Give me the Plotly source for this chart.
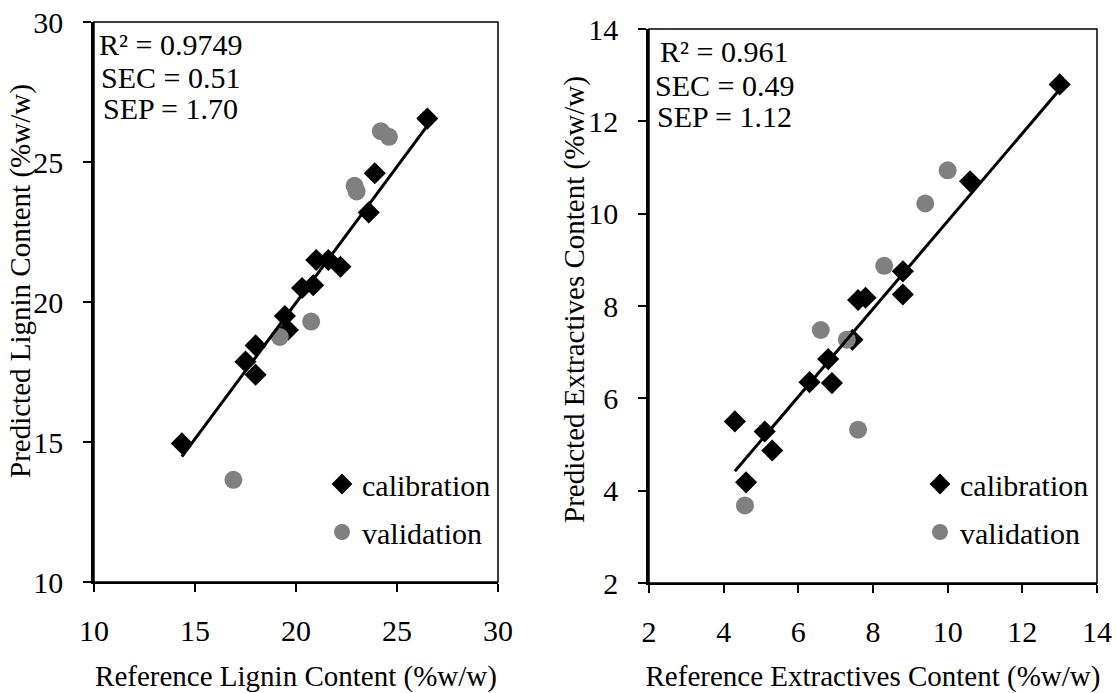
import plotly.graph_objects as go

W, H = 1116, 693
FONT = "Liberation Serif"

# ---------------- data ----------------
lig_cal_x = [26.5, 23.9, 23.6, 21.0, 21.6, 22.2, 20.3, 20.85, 19.45, 19.6, 18.0, 17.5, 18.0, 14.35]
lig_cal_y = [26.55, 24.6, 23.2, 21.5, 21.5, 21.26, 20.5, 20.6, 19.5, 19.0, 18.45, 17.87, 17.4, 14.95]
lig_val_x = [24.2, 24.6, 22.9, 23.0, 20.75, 19.2, 16.9]
lig_val_y = [26.1, 25.9, 24.15, 23.95, 19.3, 18.75, 13.65]
lig_trend_x = [14.35, 26.47]
lig_trend_y = [14.48, 26.26]

ext_cal_x = [13.0, 10.6, 8.8, 8.8, 7.6, 7.8, 7.45, 6.8, 6.3, 6.9, 4.3, 5.1, 5.3, 4.6]
ext_cal_y = [12.8, 10.7, 8.75, 8.25, 8.13, 8.18, 7.27, 6.85, 6.35, 6.33, 5.5, 5.28, 4.87, 4.18]
ext_val_x = [10.0, 9.4, 8.3, 6.6, 7.3, 7.6, 4.57]
ext_val_y = [10.94, 10.22, 8.87, 7.48, 7.27, 5.32, 3.68]
ext_trend_x = [4.3, 13.0]
ext_trend_y = [4.42, 12.69]

lig_stats = ["R² = 0.9749", "SEC = 0.51", "SEP = 1.70"]
ext_stats = ["R² = 0.961", "SEC = 0.49", "SEP = 1.12"]

lig_xticks = [10, 15, 20, 25, 30]
lig_yticks = [10, 15, 20, 25, 30]
ext_ticks = [2, 4, 6, 8, 10, 12, 14]

series_names = ["calibration", "validation"]
x_titles = ["Reference Lignin Content (%w/w)", "Reference Extractives Content (%w/w)"]
y_titles = ["Predicted Lignin Content (%w/w)", "Predicted Extractives Content (%w/w)"]

# ---------------- helpers (layout positions in pixels) ----------------
def px(x):
    return x / W

def py(y):
    return 1 - y / H

CAL_COLOR = "#000000"
VAL_COLOR = "#808080"

fig = go.Figure()

# Left panel
fig.add_trace(go.Scatter(x=lig_cal_x, y=lig_cal_y, mode="markers", name=series_names[0],
                         marker=dict(symbol="diamond", size=17, color=CAL_COLOR),
                         xaxis="x", yaxis="y", legend="legend", legendgroup="a"))
fig.add_trace(go.Scatter(x=lig_val_x, y=lig_val_y, mode="markers", name=series_names[1],
                         marker=dict(symbol="circle", size=18, color=VAL_COLOR),
                         xaxis="x", yaxis="y", legend="legend", legendgroup="b"))
fig.add_trace(go.Scatter(x=lig_trend_x, y=lig_trend_y, mode="lines", showlegend=False,
                         line=dict(color="black", width=3), xaxis="x", yaxis="y"))

# Right panel
fig.add_trace(go.Scatter(x=ext_cal_x, y=ext_cal_y, mode="markers", name=series_names[0],
                         marker=dict(symbol="diamond", size=17, color=CAL_COLOR),
                         xaxis="x2", yaxis="y2", legend="legend2", legendgroup="c"))
fig.add_trace(go.Scatter(x=ext_val_x, y=ext_val_y, mode="markers", name=series_names[1],
                         marker=dict(symbol="circle", size=18, color=VAL_COLOR),
                         xaxis="x2", yaxis="y2", legend="legend2", legendgroup="d"))
fig.add_trace(go.Scatter(x=ext_trend_x, y=ext_trend_y, mode="lines", showlegend=False,
                         line=dict(color="black", width=3), xaxis="x2", yaxis="y2"))

tickfont = dict(family=FONT, size=30, color="black")
titlefont = dict(family=FONT, size=29, color="black")

def xaxis_cfg(domain, rng, ticks, title, anchor):
    return dict(domain=domain, range=rng, tickvals=ticks, ticks="outside", ticklen=8,
                tickwidth=1.5, tickcolor="black", showline=True, linecolor="black",
                linewidth=2, showgrid=False, zeroline=False, tickfont=tickfont,
                ticklabelstandoff=13, anchor=anchor, automargin=False,
                title=dict(text=title, font=titlefont, standoff=22), fixedrange=True)

def yaxis_cfg(domain, rng, ticks, anchor):
    return dict(domain=domain, range=rng, tickvals=ticks, ticks="outside", ticklen=8,
                tickwidth=1.5, tickcolor="black", showline=True, linecolor="black",
                linewidth=2.5, showgrid=False, zeroline=False, tickfont=tickfont,
                ticklabelstandoff=14, anchor=anchor, automargin=False, fixedrange=True)

L = (94, 498, 22, 582)
R = (649, 1097, 29, 583)

legend_font = dict(family=FONT, size=30, color="black")

fig.update_layout(
    width=W, height=H,
    margin=dict(l=0, r=0, t=0, b=0, autoexpand=False),
    paper_bgcolor="white", plot_bgcolor="white",
    font=dict(family=FONT, size=29, color="black"),
    xaxis=xaxis_cfg([px(L[0]), px(L[1])], [10, 30], lig_xticks, x_titles[0], "y"),
    yaxis=yaxis_cfg([py(L[3]), py(L[2])], [10, 30], lig_yticks, "x"),
    xaxis2=xaxis_cfg([px(R[0]), px(R[1])], [2, 14], ext_ticks, x_titles[1], "y2"),
    yaxis2=yaxis_cfg([py(R[3]), py(R[2])], [2, 14], ext_ticks, "x2"),
    legend=dict(x=px(322), y=py(508), xanchor="left", yanchor="middle",
                font=legend_font, bgcolor="rgba(0,0,0,0)", tracegroupgap=6,
                itemsizing="trace"),
    legend2=dict(x=px(920), y=py(508), xanchor="left", yanchor="middle",
                 font=legend_font, bgcolor="rgba(0,0,0,0)", tracegroupgap=6,
                 itemsizing="trace"),
    showlegend=True,
)

# plot area borders (thin frame on top/right)
for xr, yr in (("x domain", "y domain"), ("x2 domain", "y2 domain")):
    fig.add_shape(type="rect", xref=xr, yref=yr, x0=0, x1=1, y0=0, y1=1,
                  line=dict(color="black", width=1.5), layer="above")

# y-axis titles (rotated text)
for t, xx, yy in zip(y_titles, [20, 574], [281, 300]):
    fig.add_annotation(text=t, xref="paper", yref="paper", x=px(xx), y=py(yy),
                       xanchor="center", yanchor="middle", showarrow=False, textangle=-90,
                       font=dict(family=FONT, size=29, color="black"))

# statistics text
stat_font = dict(family=FONT, size=30, color="black")
for t, yy in zip(lig_stats, [44, 77, 108]):
    fig.add_annotation(text=t, xref="paper", yref="paper", x=px(170), y=py(yy),
                       xanchor="center", yanchor="middle", showarrow=False, font=stat_font)
for t, yy in zip(ext_stats, [52, 85, 117]):
    fig.add_annotation(text=t, xref="paper", yref="paper", x=px(724), y=py(yy),
                       xanchor="center", yanchor="middle", showarrow=False, font=stat_font)

fig.write_html("out.html", config={"displayModeBar": False})
